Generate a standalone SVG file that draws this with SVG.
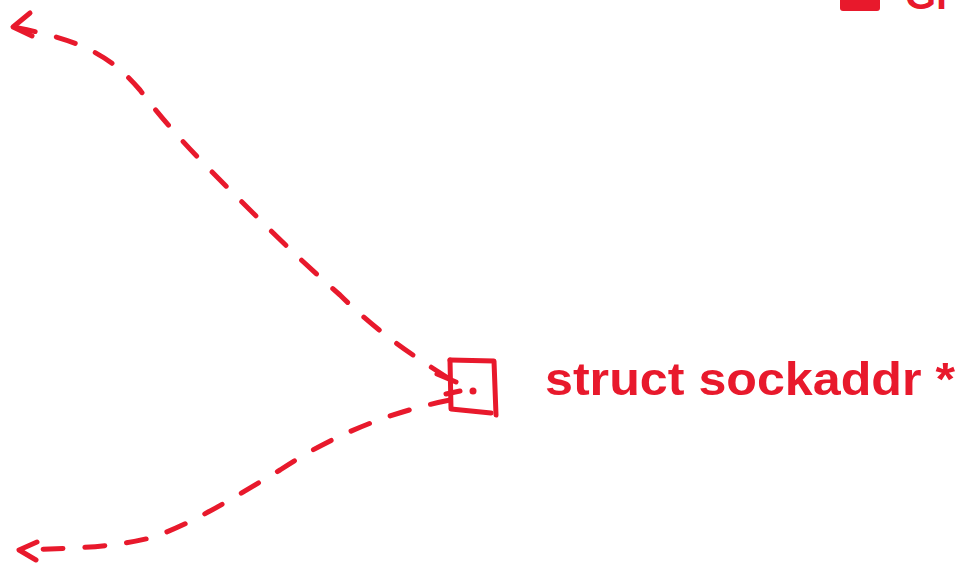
<svg xmlns="http://www.w3.org/2000/svg" width="961" height="563" viewBox="0 0 961 563">
<style>
.ln{fill:none;stroke:#e8192c;stroke-width:5;stroke-linecap:round;stroke-linejoin:round}
.dash{stroke-dasharray:20 22}
.txt{font-family:"Liberation Sans","DejaVu Sans",sans-serif;fill:#e8192c}
</style>
<rect width="961" height="563" fill="#ffffff"/>
<g id="connectors">
<path class="ln dash" d="M448,378 C420,360 380,335 340,295 C300,260 270,230 240,200 C200,160 170,130 140,90 C110,55 80,40 18,28"/>
<path class="ln" d="M30,13 L13,27 L32,36"/>
<path class="ln dash" d="M450,400 C400,410 340,430 280,470 C230,500 190,525 150,538 C110,548 70,548 22,550"/>
<path class="ln" d="M37,542 L19,550 L36,560"/>
</g>
<g id="node-sockaddr">
<path class="ln" d="M450,360 L494,361 L496,415"/>
<path class="ln" d="M450,360 L451,409 L491,413"/>
<path class="ln" d="M437,374 L456,382"/>
<path class="ln" d="M446,394 L460,391"/>
<circle cx="473" cy="391" r="3.5" fill="#e8192c"/>
<text class="txt" x="545" y="395" font-size="46" font-weight="bold" textLength="410" lengthAdjust="spacingAndGlyphs">struct sockaddr *</text>
</g>
<g id="node-top">
<rect x="840" y="-6" width="40" height="17" rx="3" fill="#e8192c"/>
<text class="txt" x="905" y="9" font-size="40" font-weight="bold">Gr</text>
</g>
</svg>
